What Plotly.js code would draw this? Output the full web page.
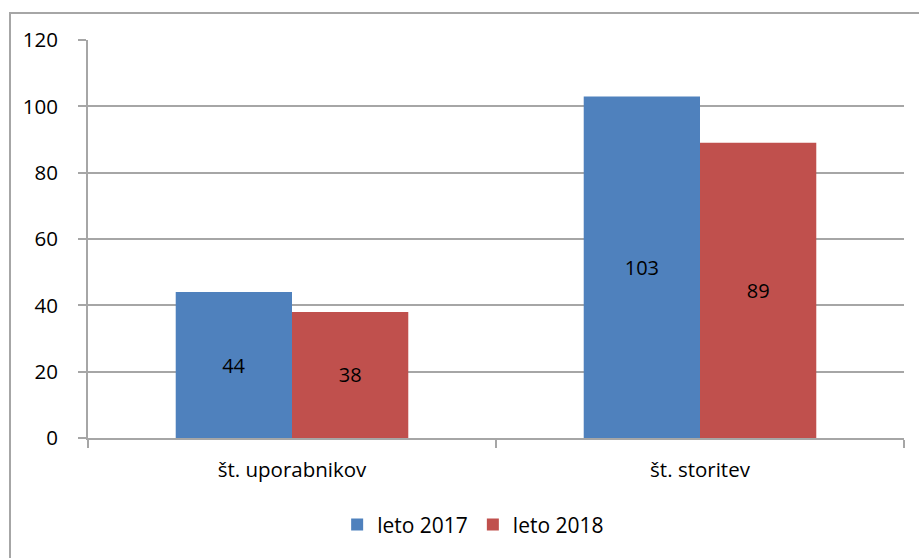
<!DOCTYPE html>
<html>
<head>
<meta charset="utf-8">
<script src="https://cdn.plot.ly/plotly-3.0.1.min.js"></script>
<style>
  html, body { margin: 0; padding: 0; background: #fff; }
  #wrap { position: relative; width: 919px; height: 558px; }
  #chart { width: 919px; height: 558px; }
  #frame { position: absolute; left: 9px; top: 12px; width: 920px; height: 560px;
           border: 2px solid #a6a6a6; box-sizing: border-box; pointer-events: none; }
</style>
</head>
<body>
<div id="wrap">
  <div id="chart"></div>
  <div id="frame"></div>
</div>
<script>
const categories = ['št. uporabnikov', 'št. storitev'];
const seriesNames = ['leto 2017', 'leto 2018'];
const values2017 = [44, 103];
const values2018 = [38, 89];
const yTicks = [0, 20, 40, 60, 80, 100, 120];

const fontFamily = '"Open Sans", "DejaVu Sans", sans-serif';
const gridColor = '#a6a6a6';

const makeBar = (name, values, color) => ({
  type: 'bar',
  name: name,
  x: categories,
  y: values,
  text: values.map(String),
  textposition: 'inside',
  insidetextanchor: 'middle',
  textfont: { family: fontFamily, size: 20, color: '#000' },
  marker: { color: color, line: { width: 0 } },
  hoverinfo: 'skip'
});

const data = [
  makeBar(seriesNames[0], values2017, '#4f81bd'),
  makeBar(seriesNames[1], values2018, '#c0504d')
];

const layout = {
  width: 919,
  height: 558,
  paper_bgcolor: '#fff',
  plot_bgcolor: '#fff',
  font: { family: fontFamily, size: 20, color: '#000' },
  margin: { l: 88, r: 15, t: 40, b: 120, pad: 0 },
  barmode: 'group',
  bargap: 0.43,
  bargroupgap: 0,
  showlegend: true,
  legend: {
    orientation: 'h',
    x: 0.472, xanchor: 'center',
    y: -0.218, yanchor: 'middle',
    font: { family: fontFamily, size: 21 },
    itemwidth: 30,
    traceorder: 'normal'
  },
  xaxis: {
    type: 'category',
    showgrid: false,
    showline: true,
    linecolor: gridColor,
    linewidth: 2,
    ticks: 'outside',
    tickson: 'boundaries',
    ticklen: 8,
    tickwidth: 2,
    tickcolor: gridColor,
    ticklabelstandoff: 12,
    tickfont: { family: fontFamily, size: 20.5 }
  },
  yaxis: {
    range: [0, 120],
    tickvals: yTicks,
    showgrid: true,
    gridcolor: gridColor,
    gridwidth: 2,
    zeroline: false,
    showline: true,
    linecolor: gridColor,
    linewidth: 2,
    ticks: 'outside',
    ticklen: 8,
    tickwidth: 2,
    tickcolor: gridColor,
    ticklabelstandoff: 16,
    tickfont: { family: fontFamily, size: 20.5 }
  }
};

Plotly.newPlot('chart', data, layout, { staticPlot: true, displayModeBar: false });
</script>
</body>
</html>
